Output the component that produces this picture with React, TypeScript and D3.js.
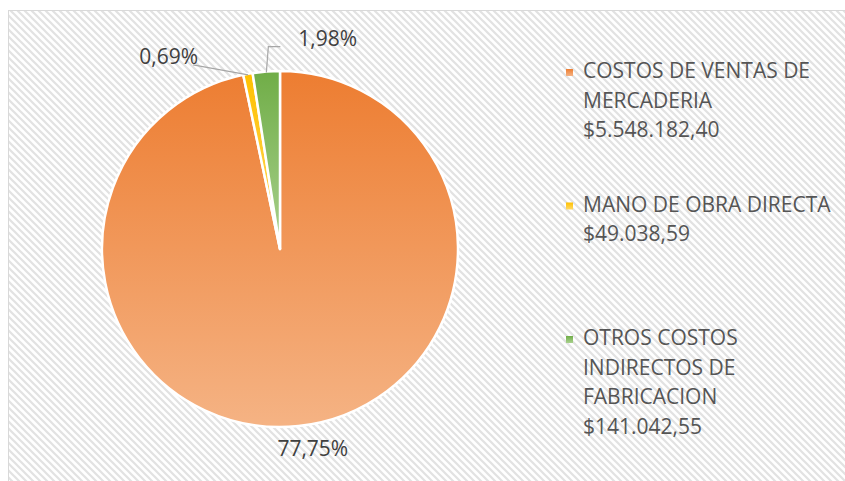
import React, { useEffect, useRef } from "react";
import * as d3 from "d3";

// slice values (pie is drawn from these) and the labels Excel printed
const categories = ["COSTOS DE VENTAS DE MERCADERIA", "MANO DE OBRA DIRECTA", "OTROS COSTOS INDIRECTOS DE FABRICACION"];
const values = [5548182.4, 49038.59, 141042.55];
const percentLabels = ["77,75%", "0,69%", "1,98%"];
const legendLines = [
  ["COSTOS DE VENTAS DE", "MERCADERIA", "$5.548.182,40"],
  ["MANO DE OBRA DIRECTA", "$49.038,59"],
  ["OTROS COSTOS", "INDIRECTOS DE", "FABRICACION", "$141.042,55"],
];
const colors = [
  ["#ED7D31", "#F5B384"],
  ["#FFC000", "#FFD966"],
  ["#70AD47", "#A9D18E"],
];

const W = 845;
const H = 481;
const FONT = "'Open Sans', sans-serif";

export default function App() {
  const ref = useRef<SVGSVGElement>(null);

  useEffect(() => {
    const svg = d3.select(ref.current);
    svg.selectAll("*").remove();

    const defs = svg.append("defs");
    const pat = defs.append("pattern")
      .attr("id", "hatch")
      .attr("patternUnits", "userSpaceOnUse")
      .attr("width", 7)
      .attr("height", 7);
    pat.append("rect").attr("width", 7).attr("height", 7).attr("fill", "#fff");
    pat.append("path")
      .attr("d", "M0,0 L7,7 M-2,5 L2,9 M5,-2 L9,2")
      .attr("stroke", "#e2e2e2")
      .attr("stroke-width", 2.2);

    colors.forEach((c, i) => {
      const g = defs.append("linearGradient")
        .attr("id", "grad" + i)
        .attr("x1", 0).attr("y1", 0).attr("x2", 0).attr("y2", 1);
      g.append("stop").attr("offset", "0%").attr("stop-color", c[0]);
      g.append("stop").attr("offset", "100%").attr("stop-color", c[1]);
    });

    // chart area
    svg.append("rect")
      .attr("x", 8.5).attr("y", 10.5)
      .attr("width", W).attr("height", H)
      .attr("fill", "url(#hatch)")
      .attr("stroke", "#d9d9d9");

    const cx = 280, cy = 249, r = 178;
    const pie = d3.pie<number>().sort(null).value(d => d);
    const arcs = pie(values);
    const arc = d3.arc<d3.PieArcDatum<number>>().innerRadius(0).outerRadius(r);

    const g = svg.append("g").attr("transform", `translate(${cx},${cy})`);
    g.selectAll("path")
      .data(arcs)
      .enter()
      .append("path")
      .attr("d", arc)
      .attr("fill", (d, i) => `url(#grad${i})`)
      .attr("stroke", "#fff")
      .attr("stroke-width", 2.5)
      .attr("stroke-linejoin", "round");

    const onArc = (d: d3.PieArcDatum<number>, rad: number) => {
      const a = (d.startAngle + d.endAngle) / 2;
      return [Math.sin(a) * rad, -Math.cos(a) * rad];
    };

    const lab = g.append("g")
      .attr("font-family", FONT)
      .attr("font-size", 21)
      .attr("fill", "#404040");

    // big slice: label outside, below
    const p0 = onArc(arcs[0], r + 22);
    lab.append("text")
      .attr("x", p0[0] + 12)
      .attr("y", p0[1] + 8)
      .attr("text-anchor", "middle")
      .text(percentLabels[0]);

    // yellow slice: straight leader to the left
    const p1 = onArc(arcs[1], r - 1);
    const e1 = [p1[0] - 55, p1[1] - 10];
    g.append("polyline")
      .attr("points", [p1, e1].map(p => p.join(",")).join(" "))
      .attr("fill", "none").attr("stroke", "#a6a6a6").attr("stroke-width", 1.2);
    lab.append("text")
      .attr("x", e1[0] + 5)
      .attr("y", e1[1] - 1)
      .attr("text-anchor", "end")
      .text(percentLabels[1]);

    // green slice: elbow leader up and to the right
    const p2 = onArc(arcs[2], r - 1);
    const k2 = [p2[0] + 2, p2[1] - 26];
    const e2 = [k2[0] + 12, k2[1]];
    g.append("polyline")
      .attr("points", [p2, k2, e2].map(p => p.join(",")).join(" "))
      .attr("fill", "none").attr("stroke", "#a6a6a6").attr("stroke-width", 1.2);
    lab.append("text")
      .attr("x", e2[0] + 18)
      .attr("y", e2[1] - 1)
      .attr("text-anchor", "start")
      .text(percentLabels[2]);

    // legend
    const lineH = 29.5, gap = 45;
    let y = 78;
    const leg = svg.append("g").attr("font-family", FONT).attr("font-size", 21).attr("fill", "#555");
    legendLines.forEach((lines, i) => {
      leg.append("rect")
        .attr("x", 566).attr("y", y - 9)
        .attr("width", 7).attr("height", 7)
        .attr("fill", `url(#grad${i})`)
        .append("title").text(categories[i]);
      lines.forEach((t, j) => {
        leg.append("text").attr("x", 583).attr("y", y + j * lineH).text(t);
      });
      y += Math.max(lines.length, 3) * lineH + gap;
    });
  }, []);

  return (
    <svg ref={ref} width={W} height={H}
      style={{ position: "absolute", left: 0, top: 0, background: "#fff" }} />
  );
}
